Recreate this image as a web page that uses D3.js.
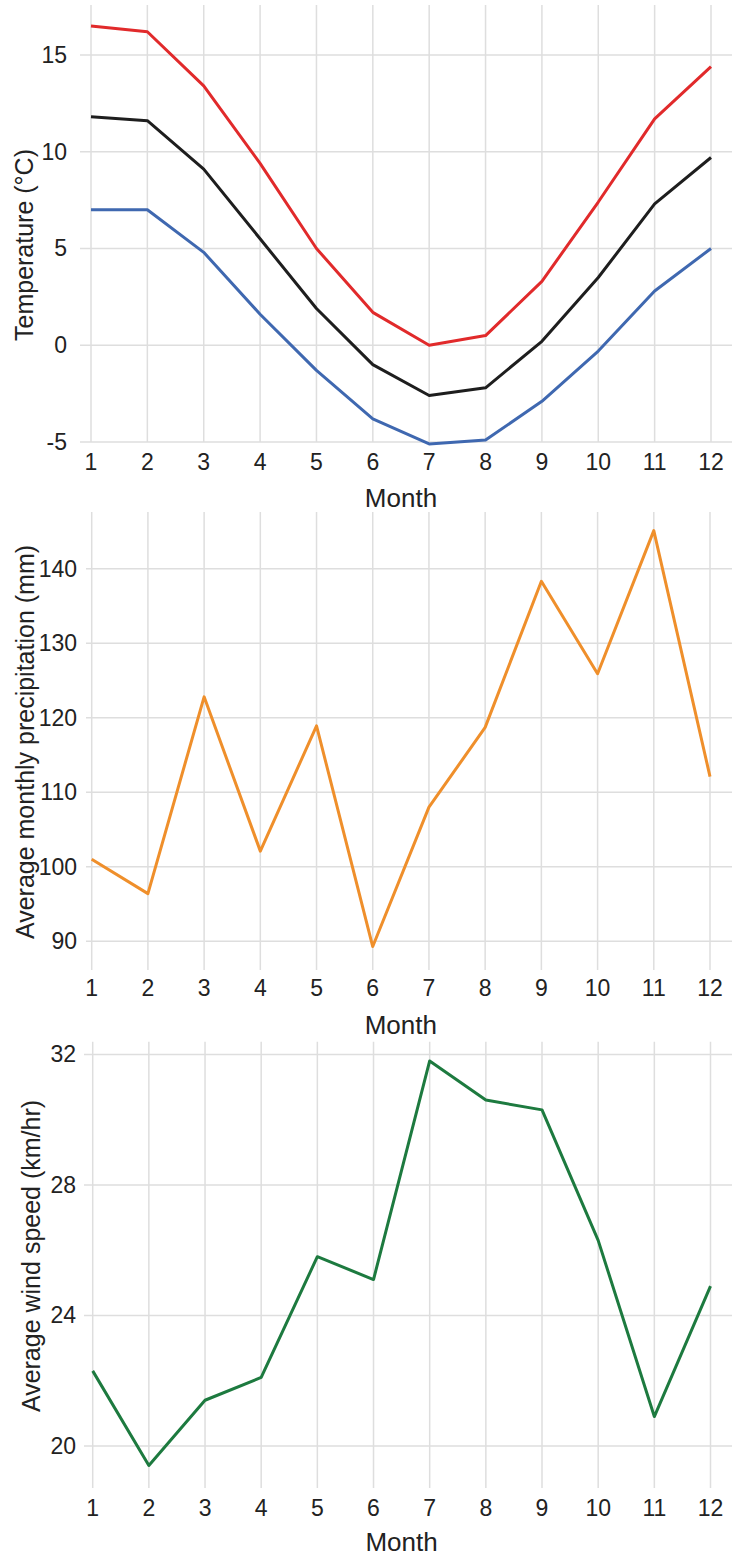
<!DOCTYPE html>
<html>
<head>
<meta charset="utf-8">
<script src="https://cdn.jsdelivr.net/npm/d3@7"></script>
<style>
  html, body { margin: 0; padding: 0; background: #ffffff; }
  svg { display: block; }
  text { font-family: "Liberation Sans", Arial, sans-serif; fill: #222222; }
</style>
</head>
<body>
<svg id="chart" width="732" height="1556"></svg>
<script>
// Monthly climate data
const months = [1, 2, 3, 4, 5, 6, 7, 8, 9, 10, 11, 12];

const tempMax  = [16.5, 16.2, 13.4, 9.4, 5.0, 1.7, 0.0, 0.5, 3.3, 7.4, 11.7, 14.4];
const tempMean = [11.8, 11.6, 9.1, 5.5, 1.9, -1.0, -2.6, -2.2, 0.2, 3.5, 7.3, 9.7];
const tempMin  = [7.0, 7.0, 4.8, 1.6, -1.3, -3.8, -5.1, -4.9, -2.9, -0.3, 2.8, 5.0];

const precipitation = [101.0, 96.4, 122.8, 102.1, 118.9, 89.3, 108.0, 118.7, 138.3, 125.9, 145.1, 112.1];

const windSpeed = [22.3, 19.4, 21.4, 22.1, 25.8, 25.1, 31.8, 30.6, 30.3, 26.3, 20.9, 24.9];

const tempTicks = [-5, 0, 5, 10, 15];
const precipTicks = [90, 100, 110, 120, 130, 140];
const windTicks = [20, 24, 28, 32];

const svg = d3.select("#chart");

const panels = [
  {
    yTitle: "Temperature (°C)",
    series: [
      { values: tempMax,  color: "#e12a2b" },
      { values: tempMean, color: "#1e1e1e" },
      { values: tempMin,  color: "#3f68b0" }
    ],
    ticks: tempTicks,
    domain: [-5, 17.58],
    top: 5, bottom: 442,
    xRange: [91, 711],
    gridLeft: 80, labelRight: 67,
    tickBaseline: 470, titleBaseline: 507,
    yTitleX: 33, yTitleY: 245
  },
  {
    yTitle: "Average monthly precipitation (mm)",
    series: [ { values: precipitation, color: "#ef8f2b" } ],
    ticks: precipTicks,
    domain: [86.15, 147.6],
    top: 512, bottom: 970,
    xRange: [91.7, 710],
    gridLeft: 86, labelRight: 77,
    tickBaseline: 996, titleBaseline: 1034,
    yTitleX: 34, yTitleY: 742
  },
  {
    yTitle: "Average wind speed (km/hr)",
    series: [ { values: windSpeed, color: "#1d7a3f" } ],
    ticks: windTicks,
    domain: [18.71, 32.39],
    top: 1041.7, bottom: 1488,
    xRange: [92.7, 710.5],
    gridLeft: 84, labelRight: 76,
    tickBaseline: 1515.5, titleBaseline: 1551,
    yTitleX: 40, yTitleY: 1256
  }
];

panels.forEach(p => {
  const g = svg.append("g");
  const x = d3.scaleLinear().domain([1, 12]).range(p.xRange);
  const y = d3.scaleLinear().domain(p.domain).range([p.bottom, p.top]);

  // vertical grid lines, one per month
  g.append("g").selectAll("line").data(months).join("line")
    .attr("x1", d => x(d)).attr("x2", d => x(d))
    .attr("y1", p.top).attr("y2", p.bottom)
    .attr("stroke", "#dedede").attr("stroke-width", 1.5);

  // horizontal grid lines
  g.append("g").selectAll("line").data(p.ticks).join("line")
    .attr("x1", p.gridLeft).attr("x2", 732)
    .attr("y1", d => y(d)).attr("y2", d => y(d))
    .attr("stroke", "#dedede").attr("stroke-width", 1.5);

  // y tick labels
  g.append("g").selectAll("text").data(p.ticks).join("text")
    .attr("x", p.labelRight).attr("y", d => y(d))
    .attr("text-anchor", "end").attr("dominant-baseline", "central")
    .attr("font-size", 23)
    .text(d => d);

  // x tick labels
  g.append("g").selectAll("text").data(months).join("text")
    .attr("x", d => x(d)).attr("y", p.tickBaseline)
    .attr("text-anchor", "middle")
    .attr("font-size", 23)
    .text(d => d);

  // x axis title
  g.append("text")
    .attr("x", (p.xRange[0] + p.xRange[1]) / 2).attr("y", p.titleBaseline)
    .attr("text-anchor", "middle").attr("font-size", 26)
    .text("Month");

  // y axis title
  g.append("text")
    .attr("transform", `translate(${p.yTitleX},${p.yTitleY}) rotate(-90)`)
    .attr("text-anchor", "middle").attr("font-size", 25)
    .text(p.yTitle);

  // data lines
  const line = d3.line().x((d, i) => x(months[i])).y(d => y(d));
  p.series.forEach(s => {
    g.append("path")
      .datum(s.values)
      .attr("d", line)
      .attr("fill", "none")
      .attr("stroke", s.color)
      .attr("stroke-width", 3)
      .attr("stroke-linejoin", "round");
  });
});
</script>
</body>
</html>
